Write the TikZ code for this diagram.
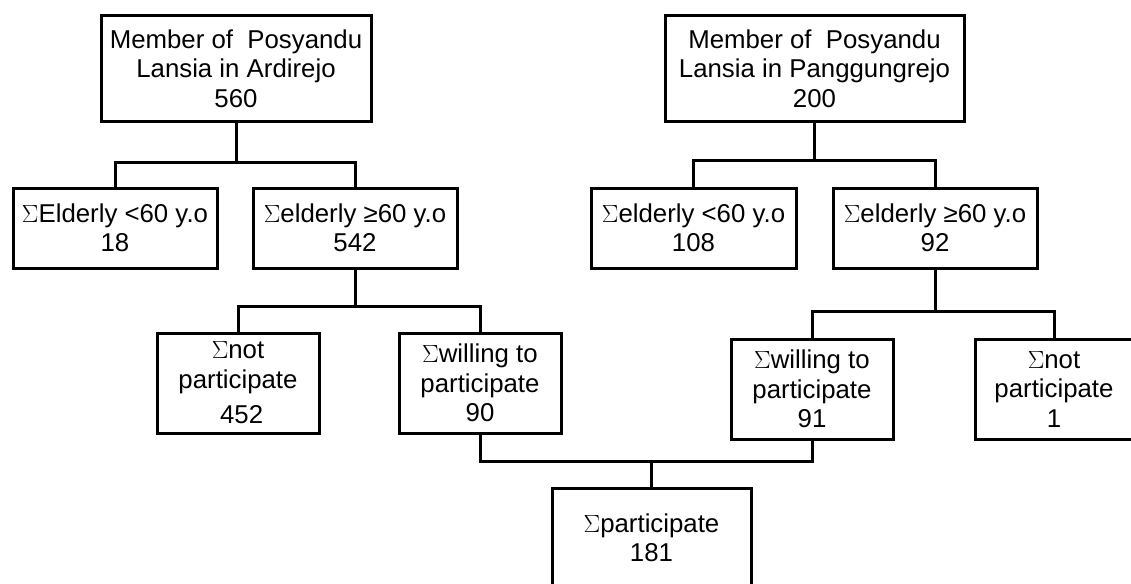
\documentclass[tikz,border=0pt]{standalone}
\usepackage{fontspec}
\setmainfont{Liberation Sans}
\begin{document}
\begin{tikzpicture}[x=1pt,y=-1pt,
  box/.style={draw, line width=3pt, inner sep=0pt, align=center,
    font=\fontsize{25.8}{29.5}\selectfont},
  conn/.style={line width=3pt}]
\useasboundingbox (0,0) rectangle (1131,583);
\clip (0,0) rectangle (1131,583);
% top level
\node[box, minimum width=270pt, minimum height=105pt] (A) at (236,68.5)
  {Member of\ \ Posyandu\\Lansia in Ardirejo\\560};
\node[box, minimum width=299pt, minimum height=105pt] (D) at (814.5,68.5)
  {Member of\ \ Posyandu\\Lansia in Panggungrejo\\200};
% second level
\node[box, minimum width=204pt, minimum height=80pt] (B) at (115,228)
  {$\Sigma$Elderly <60 y.o\\18};
\node[box, minimum width=204pt, minimum height=80pt] (C) at (355,228)
  {$\Sigma$elderly ≥60 y.o\\542};
\node[box, minimum width=205pt, minimum height=80pt] (E) at (693.5,228)
  {$\Sigma$elderly <60 y.o\\108};
\node[box, minimum width=204pt, minimum height=80pt] (F) at (935,228)
  {$\Sigma$elderly ≥60 y.o\\92};
% third level
\node[box, minimum width=162pt, minimum height=100pt] (G) at (238,383)
  {$\Sigma$not\\participate\\[6pt]\ 452};
\node[box, minimum width=162pt, minimum height=100pt] (H) at (480,383)
  {$\Sigma$willing to\\participate\\90};
\node[box, minimum width=162pt, minimum height=100pt] (I) at (812,389)
  {$\Sigma$willing to\\participate\\91};
\node[box, minimum width=158pt, minimum height=100pt] (J) at (1054,389)
  {$\Sigma$not\\participate\\1};
% bottom
\node[box, minimum width=199pt, minimum height=100pt] (K) at (651.5,538)
  {$\Sigma$participate\\181};
% junctions
\coordinate (jA) at ([yshift=-40pt]A.south);
\coordinate (jD) at ([yshift=-38pt]D.south);
\coordinate (jC) at ([yshift=-37pt]C.south);
\coordinate (jF) at ([yshift=-42pt]F.south);
\coordinate (jH) at ([yshift=-27pt]H.south);
% connectors
\draw[conn] (A.south) -- (jA);
\draw[conn] (B.north) |- (jA) -| (C.north);
\draw[conn] (D.south) -- (jD);
\draw[conn] (E.north) |- (jD) -| (F.north);
\draw[conn] (C.south) -- (jC);
\draw[conn] (G.north) |- (jC) -| (H.north);
\draw[conn] (F.south) -- (jF);
\draw[conn] (I.north) |- (jF) -| (J.north);
\draw[conn] (H.south) -- (jH) -| (I.south);
\draw[conn] (K.north) -- (K.north |- jH);
\end{tikzpicture}
\end{document}
